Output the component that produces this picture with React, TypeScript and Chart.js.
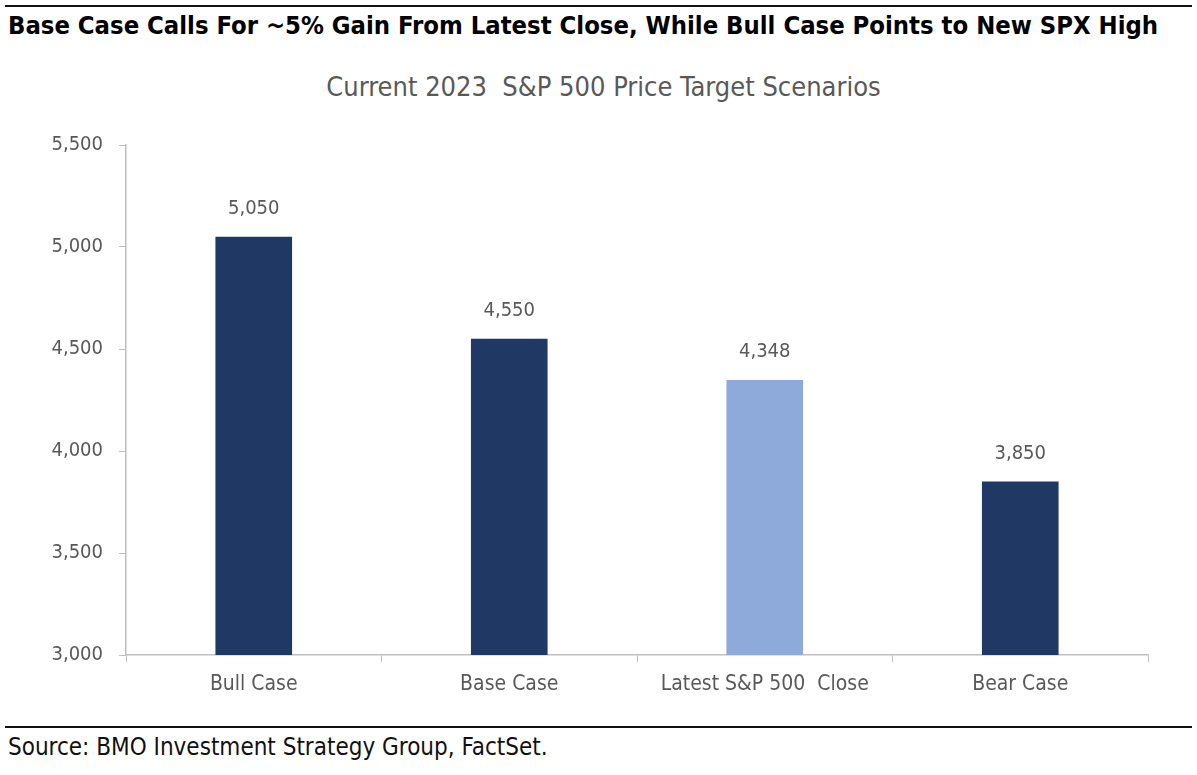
import React, { useEffect, useRef } from "react";
import { Chart, registerables } from "chart.js";

Chart.register(...registerables);

const categories = ["Bull Case", "Base Case", "Latest S&P 500  Close", "Bear Case"];
const values = [5050, 4550, 4348, 3850];
const barColors = ["#203864", "#203864", "#8EAADB", "#203864"];
const yMin = 3000;
const yMax = 5500;
const yStep = 500;

const TITLE = "Base Case Calls For ~5% Gain From Latest Close, While Bull Case Points to New SPX High";
const SUBTITLE = "Current 2023  S&P 500 Price Target Scenarios";
const SOURCE = "Source: BMO Investment Strategy Group, FactSet.";

const FONT = '"DejaVu Sans Condensed", "DejaVu Sans", sans-serif';
const GREY = "#595959";

const fmt = (v: number) => v.toLocaleString("en-US");

const labelPlugin = {
  id: "barLabels",
  afterDatasetsDraw(chart: any) {
    const ctx = chart.ctx;
    const meta = chart.getDatasetMeta(0);
    ctx.save();
    ctx.font = `20px ${FONT}`;
    ctx.fillStyle = GREY;
    ctx.textAlign = "center";
    ctx.textBaseline = "middle";
    meta.data.forEach((bar: any, i: number) => {
      ctx.fillText(fmt(values[i]), bar.x, bar.y - 28);
    });
    ctx.restore();
  },
};

export default function App() {
  const ref = useRef<HTMLCanvasElement | null>(null);

  useEffect(() => {
    if (!ref.current) return;
    const chart = new Chart(ref.current, {
      type: "bar",
      data: {
        labels: categories,
        datasets: [
          {
            data: values,
            backgroundColor: barColors,
            borderWidth: 0,
            barPercentage: 0.6,
            categoryPercentage: 0.5,
          },
        ],
      },
      options: {
        animation: false,
        responsive: true,
        maintainAspectRatio: false,
        layout: { padding: { top: 45, right: 49, left: 0, bottom: 0 } },
        plugins: {
          legend: { display: false },
          tooltip: { enabled: false },
          title: { display: false },
        },
        scales: {
          x: {
            afterFit: (s: any) => {
              s.height = 65;
            },
            grid: {
              offset: true,
              drawOnChartArea: false,
              drawTicks: true,
              tickLength: 7,
              color: "#BFBFBF",
            },
            border: { color: "#BFBFBF", width: 1.5 },
            ticks: {
              color: GREY,
              font: { family: FONT, size: 21 },
              padding: 10,
              maxRotation: 0,
            },
          },
          y: {
            min: yMin,
            max: yMax,
            afterFit: (s: any) => {
              s.width = 126;
            },
            grid: {
              drawOnChartArea: false,
              drawTicks: true,
              tickLength: 7,
              color: "#BFBFBF",
            },
            border: { color: "#BFBFBF", width: 1.5 },
            ticks: {
              stepSize: yStep,
              color: GREY,
              font: { family: FONT, size: 20 },
              padding: 16,
              callback: (v: any) => fmt(Number(v)),
            },
          },
        },
      },
      plugins: [labelPlugin],
    });
    return () => chart.destroy();
  }, []);

  return (
    <div
      style={{
        position: "absolute",
        left: 0,
        top: 0,
        width: 1197,
        height: 775,
        background: "#fff",
        overflow: "hidden",
      }}
    >
      <div style={{ position: "absolute", left: 5, top: 5, width: 1187, height: 2, background: "#111" }} />
      <div
        style={{
          position: "absolute",
          left: 8,
          top: 9,
          fontFamily: FONT,
          fontWeight: "bold",
          fontSize: 25.4,
          color: "#000",
          whiteSpace: "pre",
          lineHeight: "32px",
        }}
      >
        {TITLE}
      </div>
      <div
        style={{
          position: "absolute",
          left: 0,
          width: 1207,
          top: 70,
          textAlign: "center",
          fontFamily: FONT,
          fontSize: 27,
          color: GREY,
          whiteSpace: "pre",
          lineHeight: "34px",
        }}
      >
        {SUBTITLE}
      </div>
      <div style={{ position: "absolute", left: 0, top: 100, width: 1197, height: 620 }}>
        <canvas ref={ref} />
      </div>
      <div style={{ position: "absolute", left: 5, top: 726, width: 1187, height: 2, background: "#111" }} />
      <div
        style={{
          position: "absolute",
          left: 8,
          top: 732,
          fontFamily: FONT,
          fontSize: 24,
          color: "#111",
          whiteSpace: "pre",
          lineHeight: "30px",
        }}
      >
        {SOURCE}
      </div>
    </div>
  );
}
